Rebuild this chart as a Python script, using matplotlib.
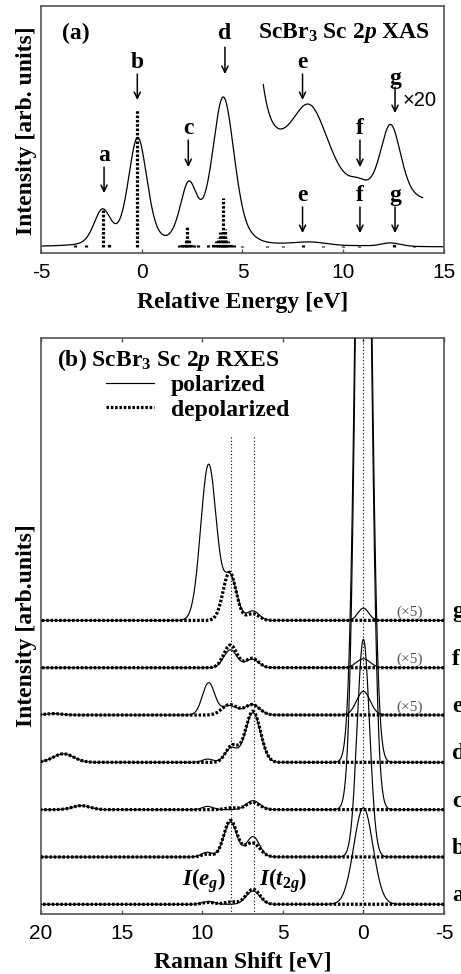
import numpy as np
import matplotlib
matplotlib.use("Agg")
import matplotlib.pyplot as plt
from matplotlib.lines import Line2D

plt.rcParams["font.family"] = ["Liberation Serif", "DejaVu Serif"]
plt.rcParams["mathtext.fontset"] = "custom"
plt.rcParams["mathtext.rm"] = "Liberation Serif:bold"
plt.rcParams["mathtext.bf"] = "Liberation Serif:bold"
plt.rcParams["mathtext.it"] = "Liberation Serif:bold:italic"
plt.rcParams["axes.unicode_minus"] = False

# ---------------- (a) Sc 2p XAS ----------------
xas_center = [-1.95, -0.20, 2.33, 4.05, 5.5, 8.35, 10.75, 12.35]
xas_height = [0.23, 0.715, 0.387, 0.987, 0.012, 0.0255, 0.003, 0.0244]
xas_fwhm = [1.0, 1.1, 1.0, 1.3, 0.9, 2.2, 1.0, 1.2]
xas_eta = 0.3
zoom_factor = 20
zoom_offset = 0.265
zoom_range = (6.03, 13.94)

stick_energy = [-3.3, -2.75, -1.92, -1.6, -0.22,
                1.85, 2.0, 2.1, 2.2, 2.27, 2.35, 2.45, 2.6, 2.8,
                3.3, 3.55, 3.7, 3.8, 3.9, 3.98, 4.05, 4.12, 4.2, 4.3, 4.45, 4.6, 5.0,
                6.2, 7.0, 8.0, 9.0, 10.0, 10.8, 12.5, 13.5]
stick_height = [0.015, 0.015, 0.25, 0.03, 0.92,
                0.015, 0.02, 0.03, 0.05, 0.14, 0.05, 0.03, 0.015, 0.012,
                0.012, 0.02, 0.04, 0.06, 0.10, 0.08, 0.33, 0.12, 0.06, 0.04, 0.02, 0.015, 0.01,
                0.008, 0.008, 0.012, 0.008, 0.008, 0.008, 0.018, 0.008]

xas_labels = ["a", "b", "c", "d", "e", "f", "g"]
xas_arrow_x = [-1.87, -0.22, 2.31, 4.13, 7.98, 10.83, 12.57]
xas_label_y = [0.613, 1.233, 0.793, 1.427, 0.347, 0.347, 0.347]
xas_arrow_top = [0.533, 1.153, 0.713, 1.333, 0.267, 0.267, 0.267]
xas_arrow_bottom = [0.36, 0.98, 0.533, 1.153, 0.093, 0.093, 0.093]
zoom_labels = ["e", "f", "g"]
zoom_arrow_x = [7.98, 10.83, 12.57]
zoom_label_y = [1.233, 0.793, 1.127]
zoom_arrow_top = [1.153, 0.713, 1.067]
zoom_arrow_bottom = [0.98, 0.533, 0.893]

# ---------------- (b) Sc 2p RXES ----------------
spectra = ["a", "b", "c", "d", "e", "f", "g"]
# components: (Raman shift [eV], height, FWHM [eV])
pol_a = [(9.6, 0.06, 0.9), (6.85, 0.28, 1.0)]
dep_a = [(9.6, 0.04, 0.9), (8.2, 0.05, 0.9), (6.85, 0.32, 1.0)]
pol_b = [(9.7, 0.10, 0.8), (8.25, 0.74, 0.95), (6.85, 0.43, 0.95)]
dep_b = [(9.7, 0.06, 0.8), (8.25, 0.77, 0.95), (6.9, 0.30, 1.1)]
pol_c = [(17.5, 0.085, 1.3), (9.65, 0.07, 0.8), (6.85, 0.19, 1.0)]
dep_c = [(17.5, 0.085, 1.3), (8.2, 0.04, 0.9), (6.85, 0.155, 1.0)]
pol_d = [(18.6, 0.18, 1.5), (9.65, 0.07, 0.8), (8.2, 0.30, 0.9), (6.85, 1.05, 1.1)]
dep_d = [(18.6, 0.18, 1.5), (8.15, 0.35, 0.9), (6.85, 1.08, 1.1)]
pol_e = [(19.2, 0.03, 1.2), (9.6, 0.68, 0.9), (8.3, 0.20, 1.1), (6.9, 0.22, 1.1)]
dep_e = [(19.2, 0.03, 1.2), (8.3, 0.22, 1.1), (6.9, 0.22, 1.1)]
pol_f = [(8.25, 0.38, 0.95), (6.9, 0.18, 0.95)]
dep_f = [(8.25, 0.48, 0.95), (6.9, 0.20, 0.95)]
pol_g = [(9.6, 3.3, 1.15), (8.25, 0.92, 0.95), (6.85, 0.20, 0.9)]
dep_g = [(8.3, 1.02, 0.95), (6.85, 0.14, 0.9)]
polarized = [pol_a, pol_b, pol_c, pol_d, pol_e, pol_f, pol_g]
depolarized = [dep_a, dep_b, dep_c, dep_d, dep_e, dep_f, dep_g]
elastic_height = [2.04, 4.6, 20.0, 20.0, 0.5, 0.19, 0.26]
elastic_fwhm = [1.4, 0.9, 1.0, 1.0, 0.99, 1.0, 0.78]
scaled_spectra = ["e", "f", "g"]
eg_position = 8.2
t2g_position = 6.8
guide_top = 9.92


def pseudo_voigt(x, centers, heights, fwhms, eta):
    y = np.zeros_like(x)
    for c, h, w in zip(centers, heights, fwhms):
        u = (x - c) / w
        y += h * (eta / (1 + 4 * u ** 2) + (1 - eta) * np.exp(-4 * np.log(2) * u ** 2))
    return y


def gauss_sum(x, comps):
    y = np.zeros_like(x)
    for c, h, w in comps:
        y += h * np.exp(-4 * np.log(2) * ((x - c) / w) ** 2)
    return y


dot_style = (0, (0.8, 0.55))
spine_color = "#555555"
big = 17

fig = plt.figure(figsize=(4.61, 9.74), dpi=100)
ax1 = fig.add_axes([0.0889, 0.7402, 0.8742, 0.2536])
ax2 = fig.add_axes([0.0889, 0.0616, 0.8742, 0.5914])

# ---- panel (a) ----
E = np.linspace(-5, 15, 2001)
xas = pseudo_voigt(E, xas_center, xas_height, xas_fwhm, xas_eta)
ax1.plot(E, xas, color="k", lw=0.9)
Ez = np.linspace(zoom_range[0], zoom_range[1], 800)
ax1.plot(Ez, zoom_offset + zoom_factor * pseudo_voigt(Ez, xas_center, xas_height, xas_fwhm, xas_eta),
         color="k", lw=0.9)
ax1.vlines(stick_energy, 0, stick_height, colors="k", lw=2.3, linestyles=[dot_style])

arrow_kw = dict(arrowstyle="->,head_length=0.45,head_width=0.22", lw=1.1, color="k",
                shrinkA=0, shrinkB=0)
for lab, x, ly, yt, yb in zip(xas_labels, xas_arrow_x, xas_label_y, xas_arrow_top, xas_arrow_bottom):
    ax1.annotate("", xy=(x, yb), xytext=(x, yt), arrowprops=arrow_kw)
    ax1.text(x, ly, lab, ha="center", va="center", fontsize=big, fontweight="bold")
for lab, x, ly, yt, yb in zip(zoom_labels, zoom_arrow_x, zoom_label_y, zoom_arrow_top, zoom_arrow_bottom):
    ax1.annotate("", xy=(x, yb), xytext=(x, yt), arrowprops=arrow_kw)
    ax1.text(x, ly, lab, ha="center", va="center", fontsize=big, fontweight="bold")
ax1.text(12.97, 0.98, "\u00d720", ha="left", va="center", fontsize=14.5, family="Liberation Sans")

ax1.text(0.052, 0.891, "(a)", transform=ax1.transAxes, ha="left", va="center",
         fontsize=big, fontweight="bold")
ax1.text(0.965, 0.891, r"ScBr$_3$ Sc 2$p$ XAS", transform=ax1.transAxes, ha="right",
         va="center", fontsize=big, fontweight="bold")

ax1.set_xlim(-5, 15)
ax1.set_ylim(-0.04, 1.607)
ax1.set_xticks([-5, 0, 5, 10, 15])
ax1.set_yticks([])
ax1.tick_params(axis="x", direction="in", length=3, width=1, color=spine_color, pad=7,
                labelsize=15)
for lab in ax1.get_xticklabels():
    lab.set_family("Liberation Sans")
ax1.set_xlabel("Relative Energy [eV]", fontsize=big, fontweight="bold", va="center")
ax1.xaxis.set_label_coords(0.5, -49 / 247)
ax1.set_ylabel("Intensity [arb. units]", fontsize=big, fontweight="bold", va="center")
ax1.yaxis.set_label_coords(-14 / 403, 0.494)

# ---- panel (b) ----
R = np.linspace(-5, 20, 2001)
for i, (lab, pc, dc) in enumerate(zip(spectra, polarized, depolarized)):
    off = float(i)
    pol = gauss_sum(R, pc) + gauss_sum(R, [(0.0, elastic_height[i], elastic_fwhm[i])])
    dep = gauss_sum(R, dc)
    ax2.plot(R, off + pol, color="k", lw=0.85, zorder=3)
    ax2.plot(R, off + dep, color="k", lw=2.3, ls=dot_style, dash_capstyle="butt", zorder=4)
    ax2.text(1.02, off + 0.18, lab, transform=ax2.get_yaxis_transform(), ha="left",
             va="center", fontsize=big, fontweight="bold", clip_on=False)
    if lab in scaled_spectra:
        ax2.text(-2.86, off + 0.17, "(\u00d75)", ha="center", va="center", fontsize=11,
                 color="#555555", family="Liberation Serif", fontweight="normal")

ax2.vlines([eg_position, t2g_position], -0.3, guide_top, colors="k", lw=0.8,
           linestyles=[(0, (1, 2))], zorder=2)
ax2.axvline(0, color="k", lw=0.8, ls=(0, (1, 2)), zorder=2)

ax2.text(9.92, 0.51, r"$I(e_g)$", ha="center", va="center", fontsize=16.5)
ax2.text(4.96, 0.51, r"$I(t_{2g})$", ha="center", va="center", fontsize=16.5)

ax2.text(0.04, 0.961, r"(b) ScBr$_3$ Sc 2$p$ RXES", transform=ax2.transAxes, ha="left",
         va="center", fontsize=big, fontweight="bold")
handles = [Line2D([], [], color="k", lw=0.85),
           Line2D([], [], color="k", lw=2.3, ls=dot_style, dash_capstyle="butt")]
ax2.legend(handles, ["polarized", "depolarized"], loc="upper left",
           bbox_to_anchor=(0.161, 0.936), frameon=False, borderpad=0, borderaxespad=0,
           handlelength=2.05, handletextpad=0.7, labelspacing=0.12,
           prop={"family": "Liberation Serif", "weight": "bold", "size": big})

ax2.set_xlim(20, -5)
ax2.set_ylim(-0.205, 11.97)
ax2.set_xticks([20, 15, 10, 5, 0, -5])
ax2.set_yticks([])
ax2.tick_params(axis="x", direction="in", length=3, width=1, color=spine_color, pad=7,
                labelsize=15, top=True)
for lab in ax2.get_xticklabels():
    lab.set_family("Liberation Sans")
ax2.set_xlabel("Raman Shift [eV]", fontsize=big, fontweight="bold", va="center")
ax2.xaxis.set_label_coords(0.501, -47.7 / 576)
ax2.set_ylabel("Intensity [arb.units]", fontsize=big, fontweight="bold", va="center")
ax2.yaxis.set_label_coords(-14 / 403, 0.5)

for ax in (ax1, ax2):
    for s in ax.spines.values():
        s.set_color(spine_color)
        s.set_linewidth(1.2)

fig.savefig("out.png", dpi=100)
